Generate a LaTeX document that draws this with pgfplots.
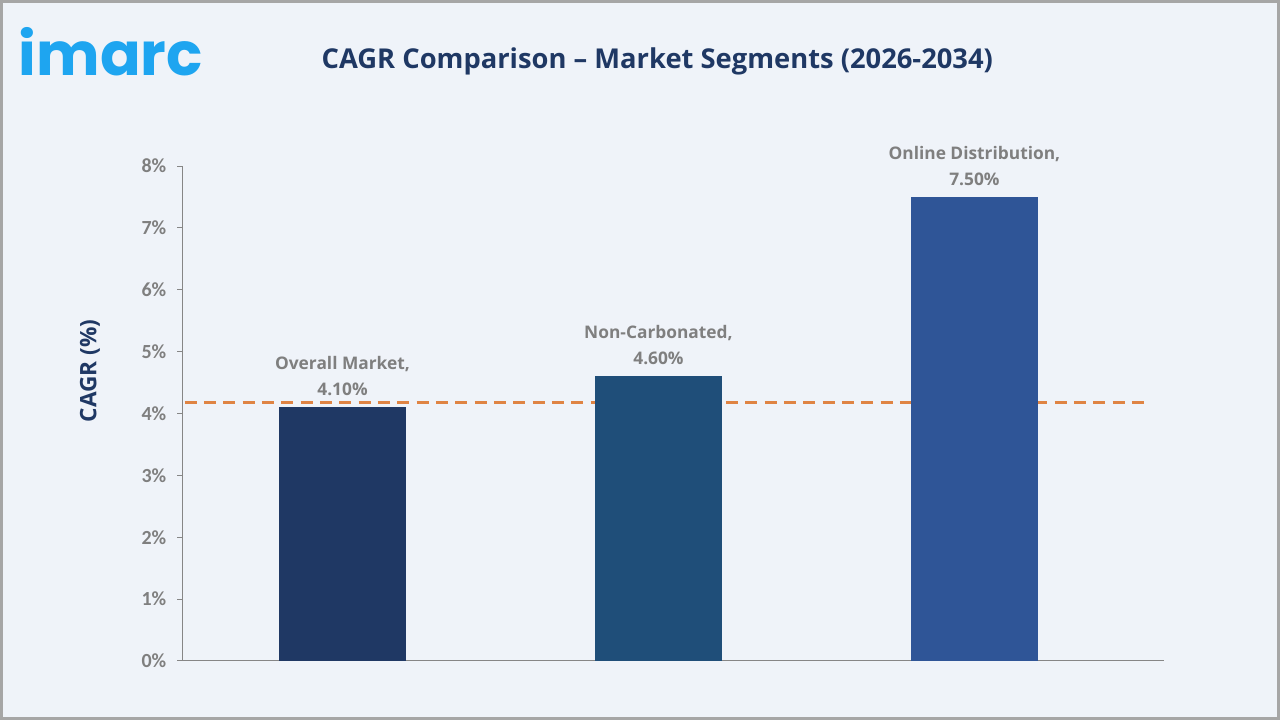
\documentclass[border=0pt]{standalone}
\usepackage{fontspec}
\setmainfont{Open Sans}
\newfontfamily\tickfont{Carlito}
\newfontfamily\logofont{Poppins}
\usepackage{pgfplots}
\pgfplotsset{compat=1.18}

\definecolor{bgcol}{HTML}{EFF3F9}
\definecolor{framecol}{HTML}{A6A6A6}
\definecolor{navy}{HTML}{1F3864}
\definecolor{barA}{HTML}{1F3864}
\definecolor{barB}{HTML}{1F4E79}
\definecolor{barC}{HTML}{2F5597}
\definecolor{lblgray}{HTML}{7F7F7F}
\definecolor{axgray}{HTML}{868686}
\definecolor{dashor}{HTML}{DF8444}
\definecolor{logoblue}{HTML}{1EA5F0}

\begin{document}
\begin{tikzpicture}
% canvas: 1 px = 0.75 pt, 1280x720 px
\useasboundingbox (0,0) rectangle (960pt,540pt);
\fill[bgcol] (0,0) rectangle (960pt,540pt);
\draw[framecol, line width=2.2pt] (1.1pt,1.1pt) rectangle (958.9pt,538.9pt);

% logo
\node[anchor=base west, inner sep=0pt, text=logoblue, font=\logofont\bfseries\fontsize{45}{45}\selectfont]
  at (14pt,483pt) {imarc};

% title
\node[text=navy, font=\bfseries\fontsize{20.5}{23}\selectfont] at (493pt,494pt)
  {CAGR Comparison – Market Segments (2026-2034)};

\begin{axis}[
  at={(136.5pt,44.25pt)}, anchor=south west,
  scale only axis, width=736.5pt, height=371.25pt,
  xmin=-0.508, xmax=2.6, ymin=0, ymax=8,
  axis x line=bottom, axis y line=left,
  axis line style={axgray, line width=0.75pt, -},
  xtick=\empty,
  ytick={0,1,...,8},
  tick align=outside, major tick length=3.75pt,
  tick style={axgray, line width=0.75pt},
  /pgf/number format/assume math mode=true,
  yticklabel={\pgfmathprintnumber{\tick}\%},
  yticklabel style={text=lblgray, xshift=-4.5pt, font=\tickfont\bfseries\fontsize{15}{15}\selectfont},
  ylabel={CAGR (\%)},
  every axis y label/.style={at={(axis description cs:-0.0937,0.586)}, rotate=90, anchor=center,
     text=navy, font=\bfseries\fontsize{17}{20}\selectfont},
  ybar, bar width=95.25pt, bar shift=0pt,
  nodes near coords align={vertical},
  every node near coord/.append style={text=lblgray, align=center, inner sep=0pt, yshift=8.5pt,
     font=\bfseries\fontsize{13}{19.5}\selectfont},
  clip=false,
]
% average line (behind bars)
\addplot[ybar=none, sharp plot, no marks, nodes near coords={}, dashor, line width=2.25pt,
  dash pattern=on 9pt off 5.5pt] coordinates {(-0.5,4.17) (2.555,4.17)};

\addplot[draw=none, fill=barA,
  nodes near coords={Overall Market,\\\pgfmathprintnumber[fixed,fixed zerofill,precision=2]{\pgfplotspointmeta}\%}]
  coordinates {(0,4.10)};
\addplot[draw=none, fill=barB,
  nodes near coords={Non-Carbonated,\\\pgfmathprintnumber[fixed,fixed zerofill,precision=2]{\pgfplotspointmeta}\%}]
  coordinates {(1,4.60)};
\addplot[draw=none, fill=barC,
  nodes near coords={Online Distribution,\\\pgfmathprintnumber[fixed,fixed zerofill,precision=2]{\pgfplotspointmeta}\%}]
  coordinates {(2,7.50)};
\end{axis}
\end{tikzpicture}
\end{document}
